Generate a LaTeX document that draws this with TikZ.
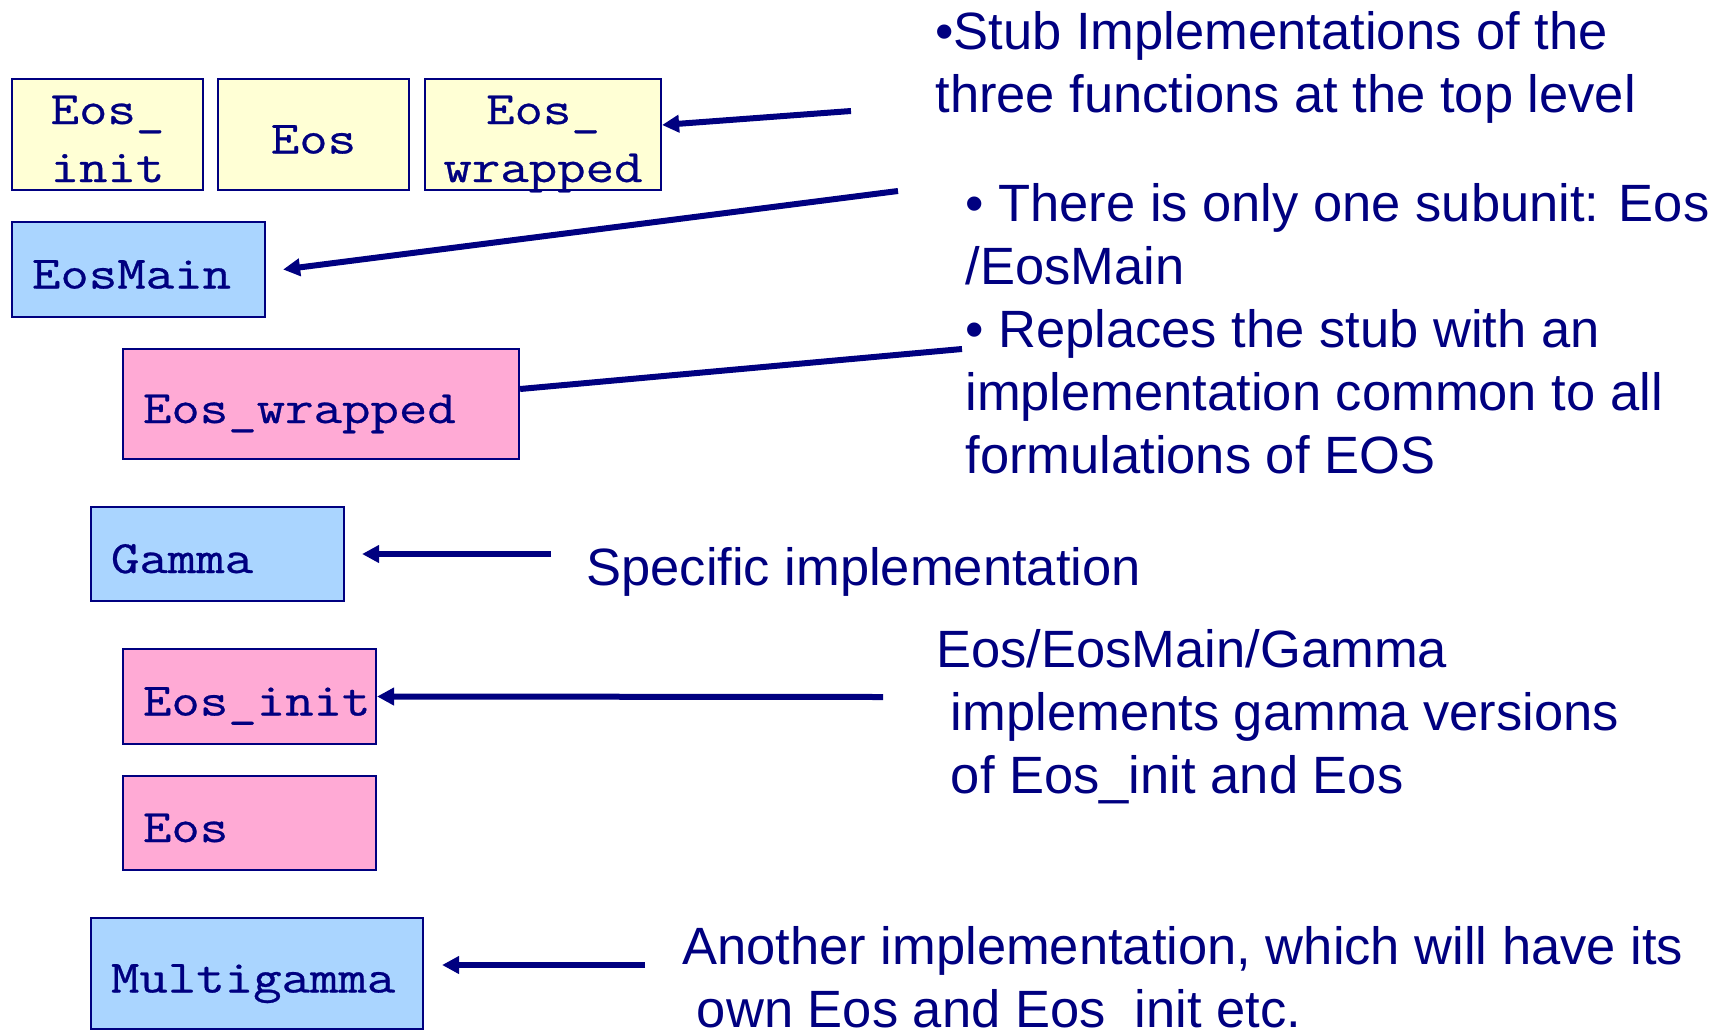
\documentclass[tikz,border=0pt]{standalone}
\usepackage{fontspec}
\setmainfont{Liberation Sans}
\newfontfamily\codett{Latin Modern Mono}[FakeStretch=1.19, FakeBold=0.6]
\usetikzlibrary{arrows.meta,calc}
\definecolor{ink}{RGB}{0,0,128}
\definecolor{stubfill}{RGB}{255,255,213}
\definecolor{unitfill}{RGB}{170,213,255}
\definecolor{implfill}{RGB}{255,170,213}

\tikzset{
  % one-line code box, text set flush left
  cbox/.style={draw=ink, fill=#1, line width=1.1pt, text=ink,
    inner xsep=10pt, inner ysep=0pt, align=left,
    font=\codett\fontsize{23.2pt}{29pt}\selectfont,
    text height=22pt, text depth=3pt},
  % top-level stub boxes, text centred on two lines
  ybox/.style={draw=ink, fill=stubfill, line width=1.1pt, text=ink,
    inner sep=0pt, align=center, minimum height=55.5pt,
    font=\codett\fontsize{23.2pt}{29pt}\selectfont,
    text height=50pt, text depth=2.5pt},
  ybox1/.style={ybox, text height=22pt, text depth=3pt},
  note/.style={anchor=base west, align=left, inner sep=0pt, text=ink,
    font=\fontsize{26.25pt}{31.4pt}\selectfont},
  arw/.style={draw=ink, line width=3pt, -{Triangle[length=8.5pt,width=8.5pt]}},
  lnk/.style={draw=ink, line width=3pt}
}

\begin{document}
\begin{tikzpicture}[x=0.5pt, y=-0.5pt]
\useasboundingbox (0,0) rectangle (1720,1034);

% stubs at the top level
\node[ybox, minimum width=95.5pt] (yi) at (107.5,134.5) {Eos\_\\init};
\node[ybox1, minimum width=95.5pt] (ye) at (313.5,134.5) {Eos};
\node[ybox, minimum width=118pt] (yw) at (543,134.5) {Eos\_\\wrapped};

% unit hierarchy
\node[cbox=unitfill, text width=106.5pt, minimum height=47.5pt] (em) at (138.5,269.5) {EosMain};
\node[cbox=implfill, text width=178pt, minimum height=55pt] (pw) at (321,404) {Eos\_wrapped};
\node[cbox=unitfill, text width=106.5pt, minimum height=47pt] (ga) at (217.5,554) {Gamma};
\node[cbox=implfill, text width=106.5pt, minimum height=47.5pt] (pi) at (249.5,696.5) {Eos\_init};
\node[cbox=implfill, text width=106.5pt, minimum height=47pt] (pe) at (249.5,823) {Eos};
\node[cbox=unitfill, text width=146pt, minimum height=55.5pt] (mg) at (257,973.5) {Multigamma};

% explanations (each anchored at the baseline of its last line)
\node[note] (t1) at (935,112) {•Stub Implementations of the\\three functions at the top level};
\node[note] (t2) at (965,473) {• There is only one subunit: Eos\\/EosMain\\• Replaces the stub with an\\implementation common to all\\formulations of EOS};
\node[note] (t3) at (586,585) {Specific implementation};
\node[note] (t4) at (936,793) {Eos/EosMain/Gamma\\\mbox{}\ implements gamma versions\\\mbox{}\ of Eos\_init and Eos};
\node[note] (t5) at (682,1027) {Another implementation, which will have its\\\mbox{}\ own Eos and Eos\ \ init etc.};

% pointers
\coordinate (c1) at (851,111);
\coordinate (c2) at (898,191);
\coordinate (c3) at (962,349);
\coordinate (c4) at (551,554);
\coordinate (c5) at (883,697);
\coordinate (c6) at (645,965);
\draw[arw] (c1) -- ($(yw.east)+(0,-9.5)$);
\draw[arw] (c2) -- ($(em.east)+(17,0)$);
\draw[lnk] (c3) -- ($(pw.east)+(0,-15)$);
\draw[arw] (c4) -- ($(ga.east)+(17,0)$);
\draw[arw] (c5) -- (pi.east);
\draw[arw] (c6) -- ($(mg.east)+(18,-8.5)$);
\end{tikzpicture}
\end{document}
